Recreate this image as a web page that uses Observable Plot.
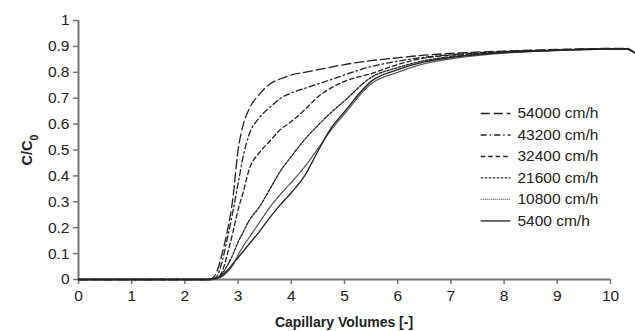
<!DOCTYPE html>
<html>
<head>
<meta charset="utf-8">
<script src="https://cdn.jsdelivr.net/npm/d3@7"></script>
<script src="https://cdn.jsdelivr.net/npm/@observablehq/plot@0.6"></script>
<style>
  html, body { margin: 0; padding: 0; background: #fff; }
  #chart svg { display: block; font-family: Arial, "Liberation Sans", sans-serif; }
</style>
</head>
<body>
<div id="chart"></div>
<script>
// Capillary volumes (x grid shared by all series)
const cv = [0, 2.4, 2.5, 2.6, 2.7, 2.8, 2.9, 3.0, 3.1, 3.2, 3.4, 3.6, 3.8, 4.0, 4.25, 4.5, 4.75, 5.0, 5.5, 6, 6.5, 7, 8, 9, 10, 10.3, 10.45];

const series = ["54000 cm/h", "43200 cm/h", "32400 cm/h", "21600 cm/h", "10800 cm/h", "5400 cm/h"];

const c54000 = [0, 0, 0.003, 0.03, 0.10, 0.19, 0.31, 0.50, 0.60, 0.655, 0.715, 0.755, 0.775, 0.79, 0.80, 0.81, 0.82, 0.83, 0.845, 0.856, 0.866, 0.873, 0.882, 0.888, 0.892, 0.892, 0.876];
const c43200 = [0, 0, 0, 0.012, 0.07, 0.16, 0.26, 0.37, 0.48, 0.555, 0.625, 0.665, 0.70, 0.72, 0.738, 0.755, 0.772, 0.79, 0.822, 0.843, 0.858, 0.868, 0.880, 0.887, 0.891, 0.891, 0.876];
const c32400 = [0, 0, 0, 0.005, 0.03, 0.10, 0.18, 0.27, 0.34, 0.42, 0.49, 0.535, 0.58, 0.61, 0.655, 0.705, 0.74, 0.765, 0.795, 0.83, 0.855, 0.866, 0.879, 0.886, 0.891, 0.891, 0.876];
const c21600 = [0, 0, 0, 0.004, 0.022, 0.055, 0.095, 0.145, 0.185, 0.225, 0.28, 0.35, 0.42, 0.475, 0.54, 0.595, 0.645, 0.69, 0.78, 0.818, 0.845, 0.86, 0.877, 0.885, 0.89, 0.89, 0.876];
const c10800 = [0, 0, 0, 0.003, 0.012, 0.03, 0.055, 0.095, 0.13, 0.16, 0.22, 0.28, 0.33, 0.375, 0.435, 0.505, 0.578, 0.64, 0.755, 0.80, 0.833, 0.852, 0.874, 0.884, 0.889, 0.889, 0.875];
const c5400  = [0, 0, 0.002, 0.006, 0.016, 0.036, 0.06, 0.085, 0.11, 0.135, 0.185, 0.24, 0.29, 0.335, 0.40, 0.495, 0.585, 0.648, 0.765, 0.81, 0.84, 0.857, 0.876, 0.885, 0.89, 0.89, 0.876];

const xTicks = [0, 1, 2, 3, 4, 5, 6, 7, 8, 9, 10];
const yTicks = [0, 0.1, 0.2, 0.3, 0.4, 0.5, 0.6, 0.7, 0.8, 0.9, 1];

const values = [c54000, c43200, c32400, c21600, c10800, c5400];
const dashes = ["9,4", "6,3,1.5,3", "4.5,3", "2.5,1.5", "1,1", null];
const colors = ["#222", "#222", "#222", "#222", "#555", "#222"];

const rows = [];
series.forEach((s, i) => cv.forEach((x, j) => rows.push({ series: s, x, y: values[i][j] })));

const lineMarks = series.map((s, i) => Plot.line(rows.filter(d => d.series === s), {
  x: "x", y: "y", curve: "monotone-x",
  stroke: colors[i], strokeWidth: 1.3,
  strokeDasharray: dashes[i]
}));

// legend rows (inside the plot, right side)
const legend = series.map((s, i) => ({ series: s, i }));
const legY = d => 0.641 - d.i * 0.083;
const legendMarks = series.map((s, i) => Plot.link([legend[i]], {
  x1: 7.56, x2: 8.12, y1: legY, y2: legY,
  stroke: colors[i], strokeWidth: 1.3, strokeDasharray: dashes[i]
}));

const plot = Plot.plot({
  width: 635,
  height: 331,
  marginTop: 20,
  marginLeft: 78,
  marginRight: 25,
  marginBottom: 52,
  style: { fontFamily: "Arial, 'Liberation Sans', sans-serif", color: "#222", background: "#fff" },
  x: { domain: [0, 10], label: null },
  y: { domain: [0, 1], label: null },
  marks: [
    Plot.axisX({ ticks: xTicks, tickSize: 5, tickPadding: 4, label: null, stroke: "#777", strokeWidth: 1.5, fill: "#222", fontSize: 15.5, tickFormat: d => String(d) }),
    Plot.axisY({ ticks: yTicks, tickSize: 5, tickPadding: 4, label: null, stroke: "#777", strokeWidth: 1.5, fill: "#222", fontSize: 15.5, tickFormat: d => String(d) }),
    Plot.ruleY([0], { stroke: "#777", strokeWidth: 2 }),
    Plot.ruleX([0], { stroke: "#777", strokeWidth: 2 }),
    ...lineMarks,
    ...legendMarks,
    Plot.text(legend, { x: 8.25, y: legY, text: "series", textAnchor: "start", fontSize: 15.5, fill: "#222" })
  ]
});

const svg = d3.select(plot);
// nudge x tick labels slightly down
svg.selectAll('g[aria-label="x-axis tick label"] text').attr("dy", "0.12em");

// axis titles
svg.append("text")
  .attr("x", 344).attr("y", 327)
  .attr("text-anchor", "middle")
  .attr("font-weight", "bold").attr("font-size", 14)
  .attr("fill", "#222")
  .text("Capillary Volumes [-]");
const yt = svg.append("text")
  .attr("transform", "translate(32,150) rotate(-90)")
  .attr("text-anchor", "middle")
  .attr("font-weight", "bold").attr("font-size", 14.5)
  .attr("fill", "#222");
yt.append("tspan").text("C/C");
yt.append("tspan").attr("baseline-shift", "sub").attr("font-size", 10.5).text("0");

document.getElementById("chart").appendChild(plot);
</script>
</body>
</html>
